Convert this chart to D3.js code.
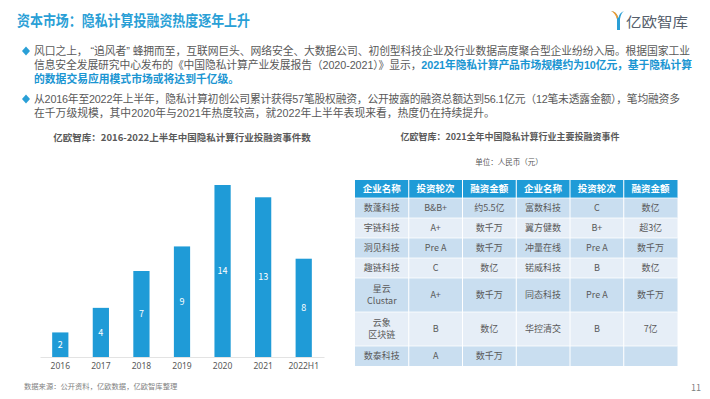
<!DOCTYPE html>
<html>
<head>
<meta charset="utf-8">
<script src="https://cdn.jsdelivr.net/npm/d3@7"></script>
<style>
  body { margin: 0; background: #fff; }
  svg { display: block; font-family: "Noto Sans CJK SC", "Noto Sans", sans-serif; }
</style>
</head>
<body>
<svg width="710" height="399"></svg>
<script>
// bar chart data
const years = ['2016', '2017', '2018', '2019', '2020', '2021', '2022H1']
const dealCounts = [2, 4, 7, 9, 14, 13, 8]

// table data
const tableHeader = ['企业名称', '投资轮次', '融资金额', '企业名称', '投资轮次', '融资金额']
const companiesA = ['数蓬科技', '宇链科技', '洞见科技', '趣链科技', '星云\nClustar', '云象\n区块链', '数泰科技']
const roundsA = ['B&B+', 'A+', 'Pre A', 'C', 'A+', 'B', 'A']
const amountsA = ['约5.5亿', '数千万', '数千万', '数亿', '数千万', '数亿', '数千万']
const companiesB = ['富数科技', '翼方健数', '冲量在线', '锘威科技', '同态科技', '华控清交', '']
const roundsB = ['C', 'B+', 'Pre A', 'B', 'Pre A', 'B', '']
const amountsB = ['数亿', '超3亿', '数千万', '数亿', '数千万', '7亿', '']

const blue = '#1f9bd7'
const gray = '#595959'
const svg = d3.select('svg')

// header
svg.append('text')
  .attr('x', 17).attr('y', 26)
  .attr('font-size', 15).attr('font-weight', 'bold')
  .attr('fill', '#2a9fd6')
  .attr('textLength', 233).attr('lengthAdjust', 'spacingAndGlyphs')
  .text('资本市场：隐私计算投融资热度逐年上升')

// logo
const logo = svg.append('g').attr('transform', 'translate(611,11)')
logo.append('path').attr('d', 'M0,0 Q5,1 6,8 L6,19 L9,19 L9,8 Q10,2 13,0 Q8,2 7.5,7 Q6,1 0,0 Z').attr('fill', '#2a9fd6')
logo.append('path').attr('d', 'M0,0 Q5,0 7,6 L6,8 Q4,2 0,0 Z').attr('fill', '#f39a2b')
logo.append('text')
  .attr('x', 15).attr('y', 16)
  .attr('font-size', 13.5).attr('fill', '#56606c')
  .attr('textLength', 62).attr('lengthAdjust', 'spacingAndGlyphs')
  .text('亿欧智库')

// bullet paragraphs
const bullets = [
  [[{ t: '风口之上， “追风者” 蜂拥而至，互联网巨头、网络安全、大数据公司、初创型科技企业及行业数据高度聚合型企业纷纷入局。根据国家工业' }], 656],
  [[{ t: '信息安全发展研究中心发布的《中国隐私计算产业发展报告（2020-2021）》显示，' }, { t: '2021年隐私计算产品市场规模约为10亿元，基于隐私计算', b: true }], 658],
  [[{ t: '的数据交易应用模式市场或将达到千亿级。', b: true }], null],
  [[{ t: '从2016年至2022年上半年，隐私计算初创公司累计获得57笔股权融资，公开披露的融资总额达到56.1亿元（12笔未透露金额），笔均融资多' }], 646],
  [[{ t: '在千万级规模，其中2020年与2021年热度较高，就2022年上半年表现来看，热度仍在持续提升。' }], null]
]
const lineY = [55, 69, 83, 103, 117]
bullets.forEach(([parts, len], i) => {
  const txt = svg.append('text')
    .attr('x', 34).attr('y', lineY[i])
    .attr('font-family', '"Liberation Sans", "Noto Sans CJK SC", sans-serif')
    .attr('font-size', 10.8).attr('fill', gray)
    .attr('xml:space', 'preserve')
  if (len) txt.attr('textLength', len).attr('lengthAdjust', 'spacing')
  parts.forEach(p => {
    txt.append('tspan')
      .attr('font-weight', p.b ? 'bold' : null)
      .attr('fill', p.b ? '#1a95d2' : gray)
      .text(p.t)
  })
})
svg.selectAll('.diamond')
  .data([51, 99])
  .join('path')
  .attr('d', d => `M26,${d - 4.5} L30,${d} L26,${d + 4.5} L22,${d} Z`)
  .attr('fill', '#2a9fd6')

// ---------- bar chart ----------
svg.append('text')
  .attr('x', 182).attr('y', 141)
  .attr('text-anchor', 'middle')
  .attr('font-size', 9.5).attr('font-weight', 'bold').attr('fill', gray)
  .text('亿欧智库：2016-2022上半年中国隐私计算行业投融资事件数')

const x = d3.scaleBand()
  .domain(years)
  .range([40, 324])
  .paddingInner(0.6)
  .paddingOuter(0.3)

const y = d3.scaleLinear()
  .domain([0, 14])
  .range([357, 185])

svg.append('g')
  .selectAll('rect')
  .data(dealCounts)
  .join('rect')
  .attr('x', (d, i) => x(years[i]))
  .attr('y', d => y(d))
  .attr('width', x.bandwidth())
  .attr('height', d => y(0) - y(d))
  .attr('fill', blue)

svg.append('g')
  .selectAll('text')
  .data(dealCounts)
  .join('text')
  .attr('x', (d, i) => x(years[i]) + x.bandwidth() / 2)
  .attr('y', d => (y(d) + y(0)) / 2)
  .attr('dy', '0.35em')
  .attr('text-anchor', 'middle')
  .attr('font-size', 9).attr('fill', '#fff')
  .text(d => d)

const xAxis = g => g
  .attr('transform', `translate(0,${y(0)})`)
  .call(d3.axisBottom(x).tickSize(0).tickPadding(6))
  .call(g => g.select('.domain').attr('stroke', '#e3e3e3').attr('stroke-width', 1.2))
  .call(g => g.selectAll('.tick text')
    .attr('font-family', '"Noto Sans", sans-serif')
    .attr('font-size', 8.5).attr('fill', gray))

svg.append('g').call(xAxis)

svg.append('text')
  .attr('x', 24).attr('y', 389)
  .attr('font-size', 7.3).attr('fill', '#7f7f7f')
  .text('数据来源：公开资料，亿欧数据，亿欧智库整理')

svg.append('text')
  .attr('x', 701).attr('y', 391)
  .attr('text-anchor', 'end')
  .attr('font-size', 9).attr('fill', '#7f7f7f')
  .text('11')

// ---------- table ----------
svg.append('text')
  .attr('x', 510).attr('y', 140)
  .attr('text-anchor', 'middle')
  .attr('font-size', 9).attr('font-weight', 'bold').attr('fill', gray)
  .text('亿欧智库：2021全年中国隐私计算行业主要投融资事件')

svg.append('text')
  .attr('x', 509).attr('y', 165)
  .attr('text-anchor', 'middle')
  .attr('font-size', 7.5).attr('fill', gray)
  .text('单位：人民币（元）')

const rows = companiesA.map((c, i) => [c, roundsA[i], amountsA[i], companiesB[i], roundsB[i], amountsB[i]])

const col = d3.scaleBand()
  .domain(d3.range(tableHeader.length))
  .range([355, 677.5])

// row heights: header, one-line rows, two-line rows
const headH = 18
const lineH = 20
const doubleH = 34
const rowH = rows.map(r => r.some(c => c.includes('\n')) ? doubleH : lineH)
const rowTop = rowH.map((h, i) => 180 + headH + d3.sum(rowH.slice(0, i)))

const head = svg.append('g')
head.selectAll('rect')
  .data(tableHeader)
  .join('rect')
  .attr('x', (d, i) => col(i))
  .attr('y', 180)
  .attr('width', col.bandwidth())
  .attr('height', headH)
  .attr('fill', blue)
head.selectAll('text')
  .data(tableHeader)
  .join('text')
  .attr('x', (d, i) => col(i) + col.bandwidth() / 2)
  .attr('y', 180 + headH / 2)
  .attr('dy', '0.35em')
  .attr('text-anchor', 'middle')
  .attr('font-size', 9.5).attr('font-weight', 'bold').attr('fill', '#fff')
  .text(d => d)

const rowG = svg.append('g')
  .selectAll('g')
  .data(rows)
  .join('g')
  .attr('transform', (d, i) => `translate(0,${rowTop[i]})`)

rowG.each(function (r, ri) {
  const g = d3.select(this)
  const h = rowH[ri]
  g.selectAll('rect')
    .data(r)
    .join('rect')
    .attr('x', (d, i) => col(i))
    .attr('y', 0)
    .attr('width', col.bandwidth())
    .attr('height', h)
    .attr('fill', ri % 2 === 0 ? '#c9def0' : '#e6eef7')
  const t = g.selectAll('text')
    .data(r)
    .join('text')
    .attr('text-anchor', 'middle')
    .attr('font-size', 9).attr('fill', gray)
  t.each(function (d, i) {
    const lines = d.split('\n')
    const cx = col(i) + col.bandwidth() / 2
    d3.select(this).selectAll('tspan')
      .data(lines)
      .join('tspan')
      .attr('x', cx)
      .attr('y', (l, k) => h / 2 + (k - (lines.length - 1) / 2) * 11.5)
      .attr('dy', '0.35em')
      .text(l => l)
  })
})

// white cell separators
svg.append('g')
  .selectAll('line')
  .data(d3.range(1, tableHeader.length))
  .join('line')
  .attr('x1', i => col(i)).attr('x2', i => col(i))
  .attr('y1', 180).attr('y2', rowTop[rowTop.length - 1] + rowH[rowH.length - 1])
  .attr('stroke', '#fff').attr('stroke-width', 1)
svg.append('g')
  .selectAll('line')
  .data(rowTop)
  .join('line')
  .attr('x1', 355).attr('x2', 677.5)
  .attr('y1', d => d).attr('y2', d => d)
  .attr('stroke', '#fff').attr('stroke-width', 0.8)
</script>
</body>
</html>
